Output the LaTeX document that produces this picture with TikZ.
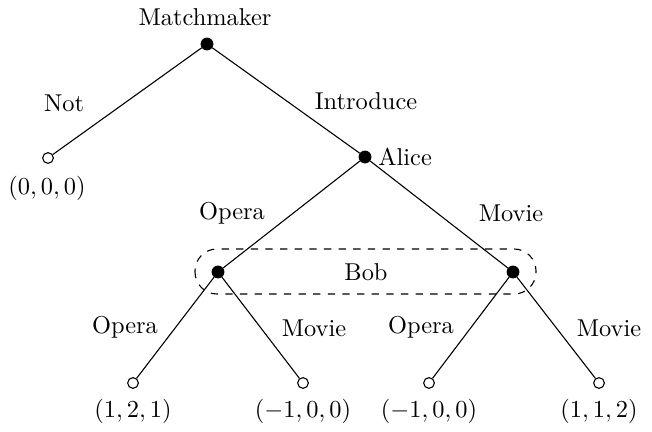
\documentclass[tikz,border=0pt]{standalone}
\tikzset{every picture/.style={line width=0.45pt}}
\tikzset{player/.style={circle,fill=black,draw=black,inner sep=0pt,minimum size=4.8pt},
  payoff/.style={circle,fill=white,draw=black,inner sep=0pt,minimum size=4.4pt}}
\begin{document}
\begin{tikzpicture}[x=0.41pt,y=0.41pt,yscale=-1,xscale=1]
%set diagram size
\path (0,0) rectangle (652,429);

%Decision nodes
\node [player] (mm) at (207,44) {};
\node [player] (alice) at (365,157) {};
\node [player] (bobl) at (218,272) {};
\node [player] (bobr) at (513,272) {};
%Terminal nodes
\node [payoff] (not) at (48,158) {};
\node [payoff] (oo) at (133,383) {};
\node [payoff] (om) at (303,383) {};
\node [payoff] (mo) at (429,383) {};
\node [payoff] (mmv) at (599,383) {};

%Straight Lines
\draw (mm) -- (not) ;
\draw (mm) -- (alice) ;
\draw (alice) -- (bobl) ;
\draw (alice) -- (bobr) ;
\draw (bobl) -- (oo) ;
\draw (bobl) -- (om) ;
\draw (bobr) -- (mo) ;
\draw (bobr) -- (mmv) ;

%Information set
\draw [dashed, rounded corners=9pt] (195,249) rectangle (536,294) ;

% Text Node
\node [anchor=center] (tmm) at (205,17) {Matchmaker};
% Text Node
\node [anchor=west,inner sep=0.75pt] (talice) at (376,157) {Alice};
% Text Node
\node [anchor=center] (tbob) at (366,272) {Bob};
% Text Node
\node [anchor=center] (tnot) at (64,103) {Not};
% Text Node
\node [anchor=center] (tintro) at (366,101) {Introduce};
% Text Node
\node [anchor=center] (tao) at (232,213) {Opera};
% Text Node
\node [anchor=center] (tam) at (511,213) {Movie};
% Text Node
\node [anchor=center] (tbo1) at (125,327) {Opera};
% Text Node
\node [anchor=center] (tbm1) at (314,328) {Movie};
% Text Node
\node [anchor=center] (tbo2) at (421,327) {Opera};
% Text Node
\node [anchor=center] (tbm2) at (609,328) {Movie};
% Text Node
\node [anchor=center] (pnot) at (47,188) {$(0,0,0)$};
% Text Node
\node [anchor=center] (poo) at (133,411) {$(1,2,1)$};
% Text Node
\node [anchor=center] (pom) at (303,411) {$(-1,0,0)$};
% Text Node
\node [anchor=center] (pmo) at (429,411) {$(-1,0,0)$};
% Text Node
\node [anchor=center] (pmm) at (599,411) {$(1,1,2)$};

\end{tikzpicture}
\end{document}
